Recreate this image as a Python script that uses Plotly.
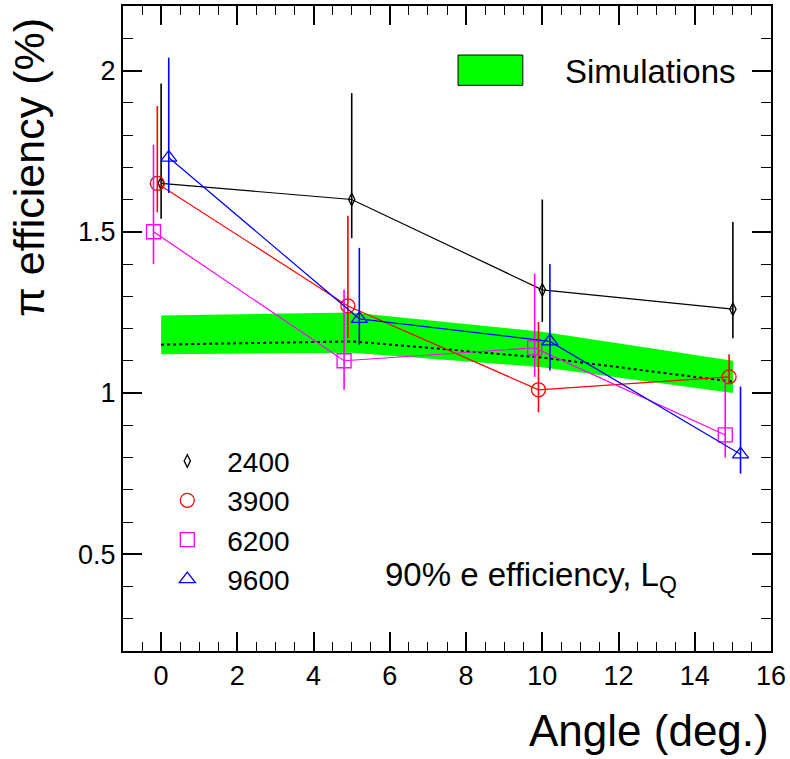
import plotly.graph_objects as go

# pion efficiency vs angle, 90% e efficiency (L_Q method)
# values, asymmetric error bars

series_names = ["2400", "3900", "6200", "9600"]

x_2400 = [0.0, 5.0, 10.0, 15.0]
y_2400 = [1.65, 1.60, 1.32, 1.26]
up_2400 = [0.31, 0.33, 0.28, 0.27]
dn_2400 = [0.11, 0.12, 0.10, 0.09]

x_3900 = [-0.1, 4.9, 9.9, 14.9]
y_3900 = [1.65, 1.27, 1.01, 1.05]
up_3900 = [0.24, 0.28, 0.21, 0.07]
dn_3900 = [0.09, 0.10, 0.07, 0.02]

x_6200 = [-0.2, 4.8, 9.8, 14.8]
y_6200 = [1.50, 1.10, 1.14, 0.87]
up_6200 = [0.27, 0.22, 0.23, 0.17]
dn_6200 = [0.10, 0.09, 0.09, 0.07]

x_9600 = [0.2, 5.2, 10.2, 15.2]
y_9600 = [1.73, 1.23, 1.16, 0.81]
up_9600 = [0.31, 0.22, 0.24, 0.21]
dn_9600 = [0.11, 0.08, 0.09, 0.06]

# simulation band
sim_x = [0.0, 5.0, 10.0, 15.0]
sim_mid = [1.15, 1.16, 1.11, 1.035]
sim_hi = [1.24, 1.25, 1.19, 1.10]
sim_lo = [1.12, 1.125, 1.08, 1.00]

FONT = "Liberation Sans, Arial, sans-serif"

fig = go.Figure()

# band as closed polygon: upper edge then lower edge reversed
fig.add_trace(go.Scatter(
    x=sim_x + sim_x[::-1],
    y=sim_hi + sim_lo[::-1],
    fill='toself',
    fillcolor='#00ff00',
    line=dict(width=0),
    mode='lines',
    hoverinfo='skip',
    showlegend=False,
))
fig.add_trace(go.Scatter(
    x=sim_x, y=sim_mid,
    mode='lines',
    line=dict(color='black', width=2, dash='dot'),
    showlegend=False,
))

styles = [
    ("black", "diamond-tall-open", 9),
    ("red", "circle-open", 14),
    ("magenta", "square-open", 14),
    ("blue", "triangle-up-open", 14),
]
data = [
    (x_2400, y_2400, up_2400, dn_2400),
    (x_3900, y_3900, up_3900, dn_3900),
    (x_6200, y_6200, up_6200, dn_6200),
    (x_9600, y_9600, up_9600, dn_9600),
]

for name, (xs, ys, up, dn), (col, sym, ms) in zip(series_names, data, styles):
    # connecting line, kept out of the legend (legend shows markers only)
    fig.add_trace(go.Scatter(
        x=xs, y=ys, mode='lines',
        line=dict(color=col, width=1.2),
        showlegend=False, hoverinfo='skip',
    ))
    fig.add_trace(go.Scatter(
        x=xs, y=ys,
        mode='markers',
        name=name,
        marker=dict(symbol=sym, size=ms, color=col, line=dict(color=col, width=1.3)),
        error_y=dict(type='data', symmetric=False, array=up, arrayminus=dn,
                     width=0, thickness=1.6, color=col),
    ))

axis_common = dict(
    showline=True, linecolor='black', linewidth=2, mirror='allticks',
    ticks='inside', ticklen=19, tickwidth=1.5, tickcolor='black',
    showgrid=False, zeroline=False,
    tickfont=dict(family=FONT, size=27, color='black'),
)

fig.update_xaxes(range=[-1, 16], tick0=0, dtick=2,
                 minor=dict(ticks='inside', ticklen=9, dtick=0.5, tickcolor='black', tickwidth=1.2),
                 **axis_common)
fig.update_yaxes(range=[0.2, 2.2], tick0=0, dtick=0.5,
                 minor=dict(ticks='inside', ticklen=10, dtick=0.1, tickcolor='black', tickwidth=1.2),
                 **axis_common)

fig.update_layout(
    width=790, height=759,
    margin=dict(l=123, r=18, t=4, b=108),
    plot_bgcolor='white', paper_bgcolor='white',
    font=dict(family=FONT, color='black'),
    legend=dict(
        x=0.0375, y=0.333, xanchor='left', yanchor='top',
        bgcolor='rgba(0,0,0,0)', borderwidth=0,
        itemwidth=70,
        font=dict(family=FONT, size=28, color='black'),
    ),
)

# simulations key (box + label)
fig.add_shape(type='rect', xref='paper', yref='paper',
              x0=0.517, x1=0.617, y0=0.877, y1=0.924,
              fillcolor='#00ff00', line=dict(color='black', width=1))
fig.add_annotation(text="Simulations", xref='paper', yref='paper',
                   x=0.679, y=0.898, xanchor='left', yanchor='middle',
                   showarrow=False, font=dict(family=FONT, size=33))

fig.add_annotation(text="90% e efficiency, L<sub>Q</sub>", xref='paper', yref='paper',
                   x=0.402, y=0.115, xanchor='left', yanchor='middle',
                   showarrow=False, font=dict(family=FONT, size=33))

# axis titles, ROOT style (right / top aligned)
fig.add_annotation(text="Angle (deg.)", xref='paper', yref='paper',
                   x=1.0, y=-0.165, xanchor='right', yanchor='bottom',
                   showarrow=False, font=dict(family=FONT, size=44))
fig.add_annotation(text="π efficiency (%)", xref='paper', yref='paper',
                   x=-0.1455, y=0.985, xanchor='center', yanchor='top', textangle=-90,
                   showarrow=False, font=dict(family=FONT, size=43))

# drop the default body margin so the 790x759 figure fills the window exactly
fig.write_html("out.html", config={'displayModeBar': False},
               post_script="document.body.style.margin='0';")
